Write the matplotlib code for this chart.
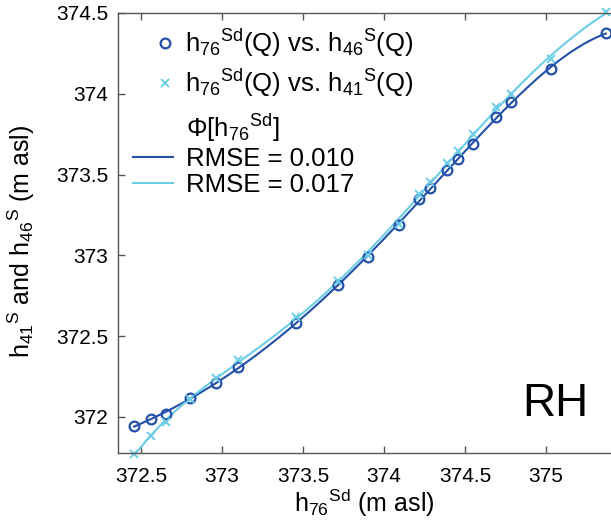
import numpy as np
import matplotlib.pyplot as plt
from matplotlib.lines import Line2D

plt.rcParams['font.family'] = ['Liberation Sans', 'DejaVu Sans']
plt.rcParams['mathtext.fontset'] = 'custom'
plt.rcParams['mathtext.rm'] = 'Liberation Sans'
plt.rcParams['mathtext.it'] = 'Liberation Sans'
plt.rcParams['mathtext.bf'] = 'Liberation Sans:bold'

# h76Sd (x) and the two stage series
h76 = [372.457, 372.564, 372.656, 372.804, 372.961, 373.101, 373.455, 373.714,
       373.903, 374.091, 374.218, 374.286, 374.391, 374.459, 374.551, 374.691,
       374.784, 375.031, 375.369]
h46 = [371.946, 371.988, 372.020, 372.116, 372.210, 372.309, 372.580, 372.819,
       372.990, 373.185, 373.349, 373.415, 373.528, 373.597, 373.692, 373.858,
       373.951, 374.153, 374.376]
h41 = [371.773, 371.882, 371.971, 372.110, 372.240, 372.353, 372.617, 372.840,
       373.005, 373.195, 373.380, 373.456, 373.572, 373.649, 373.751, 373.916,
       373.999, 374.215, 374.504]
rmse = ['0.010', '0.017']

dark = '#2350a8'
light = '#6ccde6'

h76 = np.array(h76)
fit46 = np.polynomial.Polynomial.fit(h76, h46, 5)
fit41 = np.polynomial.Polynomial.fit(h76, h41, 5)
xs = np.linspace(h76.min(), h76.max(), 300)

fig = plt.figure(figsize=(6.11, 5.26), dpi=100)
ax = fig.add_axes([118/611, 73/526, 493/611, 440/526])

ax.plot(xs, fit46(xs), color=dark, lw=1.5)
ax.plot(xs, fit41(xs), color=light, lw=1.5)
ax.plot(h76, h46, 'o', mfc='none', mec=dark, ms=7, mew=1.6, clip_on=False)
ax.plot(h76, h41, 'x', color=light, ms=6, mew=1.4, clip_on=False)

ax.set_xlim(372.358, 375.401)
ax.set_ylim(371.777, 374.5)
ax.set_xticks([372.5, 373, 373.5, 374, 374.5, 375])
ax.set_xticklabels(['372.5', '373', '373.5', '374', '374.5', '375'])
ax.set_yticks([372, 372.5, 373, 373.5, 374, 374.5])
ax.set_yticklabels(['372', '372.5', '373', '373.5', '374', '374.5'])
ax.tick_params(direction='in', top=True, right=False, length=5, width=1,
               labelsize=15, color='#555555', labelcolor='black', pad=7)
ax.tick_params(axis='x', pad=10)
for s in ['left', 'bottom', 'top']:
    ax.spines[s].set_color('#555555')
    ax.spines[s].set_linewidth(1)
ax.spines['right'].set_visible(False)

ax.set_xlabel(r'h$_{76}{}^{Sd}$ (m asl)', fontsize=18)
ax.set_ylabel(r'h$_{41}{}^{S}$ and h$_{46}{}^{S}$ (m asl)', fontsize=18)
ax.xaxis.set_label_coords(0.50, -0.078)
ax.yaxis.set_label_coords(-0.164, 0.48)

ax.text(0.888, 0.085, 'RH', transform=ax.transAxes, fontsize=33,
        ha='center', va='baseline')

h1 = Line2D([], [], marker='o', ls='none', mfc='none', mec=dark, ms=7, mew=1.6)
h2 = Line2D([], [], marker='x', ls='none', color=light, ms=6, mew=1.4)
leg1 = ax.legend([h1, h2],
                 [r'h$_{76}{}^{Sd}$(Q) vs. h$_{46}{}^{S}$(Q)',
                  r'h$_{76}{}^{Sd}$(Q) vs. h$_{41}{}^{S}$(Q)'],
                 loc='upper left', bbox_to_anchor=(0.04, 1.0), frameon=False,
                 fontsize=18.5, handlelength=1.0, handletextpad=0.3,
                 labelspacing=0.28, borderaxespad=0.15)
ax.add_artist(leg1)

b = Line2D([], [], color='none')
l1 = Line2D([], [], color=dark, lw=1.5)
l2 = Line2D([], [], color=light, lw=1.5)
ax.legend([b, l1, l2],
          [r'$\Phi$[h$_{76}{}^{Sd}$]', 'RMSE = ' + rmse[0], 'RMSE = ' + rmse[1]],
          loc='upper left', bbox_to_anchor=(0.0, 0.81), frameon=False,
          fontsize=18.5, handlelength=1.55, handletextpad=0.5,
          labelspacing=0.1, borderaxespad=0.2)

fig.savefig('out.png', dpi=100)
